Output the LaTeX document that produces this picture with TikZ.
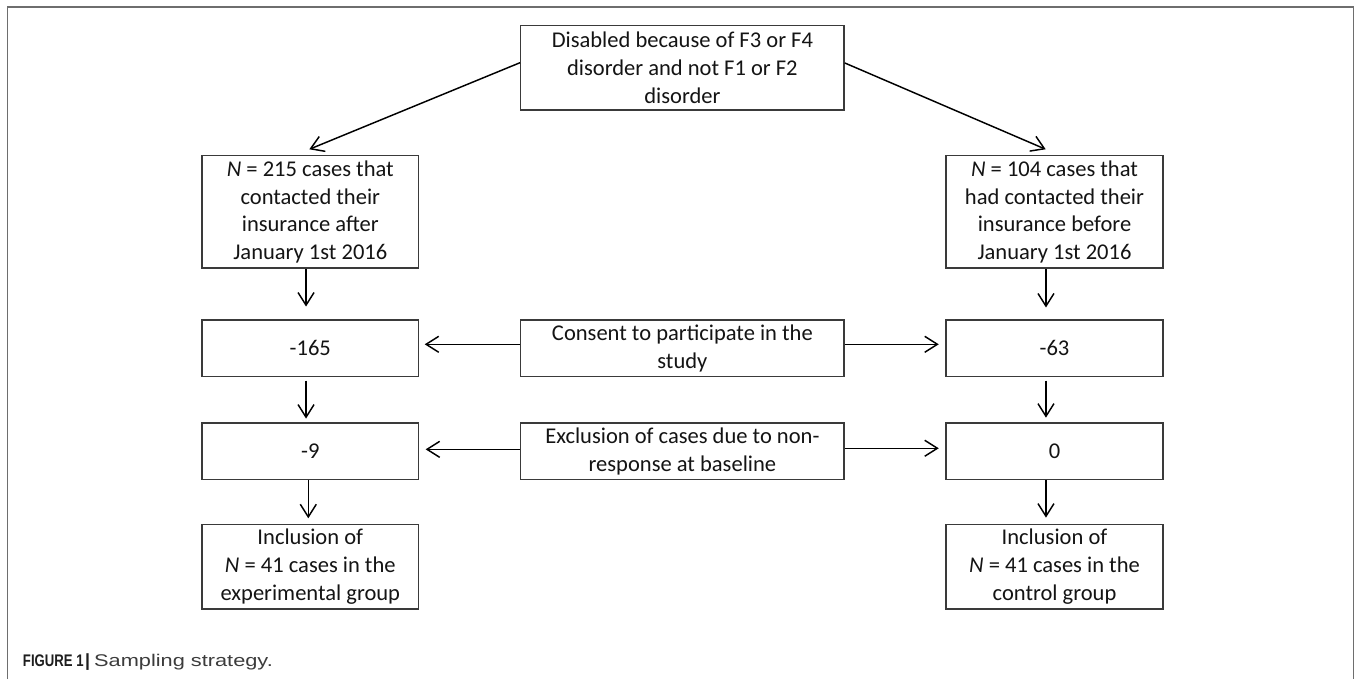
\documentclass[tikz,border=0pt]{standalone}
\usepackage{graphicx}
\usepackage{fontspec}
\setmainfont{Carlito}
\newfontfamily\capfont{Liberation Sans}
\usetikzlibrary{arrows.meta}
\definecolor{boxline}{HTML}{3A3A3A}
\definecolor{framegray}{HTML}{6E6E6E}
\definecolor{captxt}{HTML}{3C3C3C}
\definecolor{captbold}{HTML}{1E1E1E}
\begin{document}
\begin{tikzpicture}[x=0.75pt,y=-0.75pt,
  box/.style={draw=boxline, line width=1.1pt, inner sep=0pt, align=center,
    text=black!92, font=\fontsize{16.9pt}{20.85pt}\selectfont},
  colbox/.style={box, minimum width=216.7*0.75pt},
  midbox/.style={box, minimum width=323.3*0.75pt},
  arr/.style={line width=1.1pt, -{Straight Barb[length=9.5pt,width=12pt,line width=1.1pt]}}
]
\useasboundingbox (0,0) rectangle (1357,679);
\fill[white] (0,0) rectangle (1357,679);
% outer frame (open at the bottom)
\draw[framegray, line width=1.1pt] (7.3,679) -- (7.3,7) -- (1353.5,7) -- (1353.5,679);

% nodes
\node[midbox, minimum height=84.3*0.75pt] (top) at (682.4,67.9)
  {Disabled because of F3 or F4\\disorder and not F1 or F2\\disorder};
\node[colbox, minimum height=112.3*0.75pt] (L1) at (310.3,211.9)
  {\textit{N} = 215 cases that\\contacted their\\insurance after\\January 1st 2016};
\node[colbox, minimum height=112.3*0.75pt] (R1) at (1054.5,211.9)
  {\textit{N} = 104 cases that\\had contacted their\\insurance before\\January 1st 2016};
\node[colbox, minimum height=56.7*0.75pt] (L2) at (310.3,348.3) {-165};
\node[midbox, minimum height=56.7*0.75pt] (C) at (682.4,348.3)
  {Consent to participate in the\\study};
\node[colbox, minimum height=56.7*0.75pt] (R2) at (1054.5,348.3) {-63};
\node[colbox, minimum height=56.3*0.75pt] (L3) at (310.3,451.2) {-9};
\node[midbox, minimum height=56.3*0.75pt] (E) at (682.4,451.2)
  {Exclusion of cases due to non-\\response at baseline};
\node[colbox, minimum height=56.3*0.75pt] (R3) at (1054.5,451.2) {0};
\node[colbox, minimum height=84.7*0.75pt] (L4) at (310.3,566.7)
  {Inclusion of\\\textit{N} = 41 cases in the\\experimental group};
\node[colbox, minimum height=84.7*0.75pt] (R4) at (1054.5,566.7)
  {Inclusion of\\\textit{N} = 41 cases in the\\control group};

% connectors
\draw[arr] ([yshift=3.9pt]top.west) -- ([xshift=-0.75pt,yshift=4.3pt]L1.north);
\draw[arr] ([yshift=3.7pt]top.east) -- ([xshift=-6.6pt,yshift=4.3pt]R1.north);

\draw[arr] ([xshift=-3.2pt]L1.south) -- ([xshift=-3.2pt,yshift=9.5pt]L2.north);
\draw[arr] ([xshift=-3.2pt,yshift=-2.5pt]L2.south) -- ([xshift=-3.2pt,yshift=2.8pt]L3.north);
\draw[arr] ([xshift=-1.5pt]L3.south) -- ([xshift=-1.5pt,yshift=4pt]L4.north);

\draw[arr] ([xshift=-6.4pt]R1.south) -- ([xshift=-6.4pt,yshift=8.8pt]R2.north);
\draw[arr] ([xshift=-6.4pt,yshift=-2.5pt]R2.south) -- ([xshift=-6.4pt,yshift=3.5pt]R3.north);
\draw[arr] ([xshift=-6.4pt]R3.south) -- ([xshift=-6.4pt,yshift=4.5pt]R4.north);

\draw[arr] ([yshift=3pt]C.west) -- ([xshift=4pt,yshift=3pt]L2.east);
\draw[arr] ([yshift=3pt]C.east) -- ([xshift=-5pt,yshift=3pt]R2.west);
\draw[arr] ([yshift=1.4pt]E.west) -- ([xshift=4.7pt,yshift=1.4pt]L3.east);
\draw[arr] ([yshift=2.2pt]E.east) -- ([xshift=-5pt,yshift=2.2pt]R3.west);

% caption
\node[anchor=base west, inner sep=0pt, font=\capfont\fontsize{13pt}{15pt}\selectfont] (cap) at (22.7,666.7)
  {\color{captbold}\resizebox{45.5pt}{8.8pt}{\bfseries FIGURE 1}\hspace{1.2pt}\resizebox{!}{9.6pt}{\bfseries |}\hspace{3pt}\color{captxt}\resizebox{134pt}{9.2pt}{Sampling strategy.}};
\end{tikzpicture}
\end{document}
